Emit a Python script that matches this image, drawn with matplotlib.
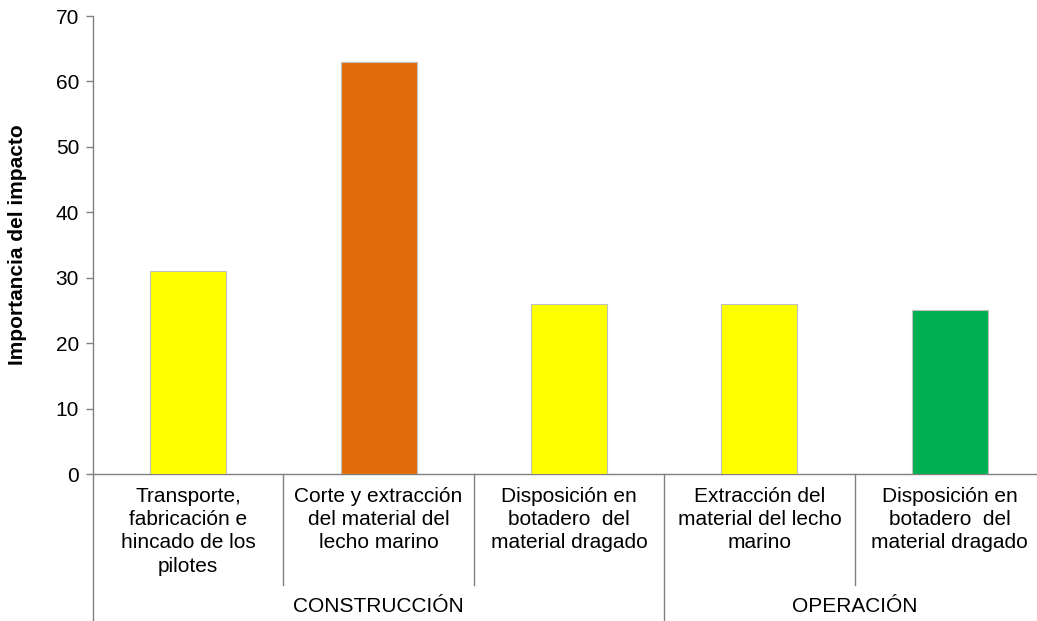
import matplotlib
matplotlib.use("Agg")
import matplotlib.pyplot as plt
import matplotlib.transforms as mtransforms

plt.rcParams['font.family'] = ['Liberation Sans', 'DejaVu Sans']

categories = [
    "Transporte,\nfabricación e\nhincado de los\npilotes",
    "Corte y extracción\ndel material del\nlecho marino",
    "Disposición en\nbotadero  del\nmaterial dragado",
    "Extracción del\nmaterial del lecho\nmarino",
    "Disposición en\nbotadero  del\nmaterial dragado",
]
values = [31, 63, 26, 26, 25]
colors = ["#FFFF00", "#E36C0A", "#FFFF00", "#FFFF00", "#00B050"]
groups = ["CONSTRUCCIÓN", "OPERACIÓN"]
group_sizes = [3, 2]
yticks = [0, 10, 20, 30, 40, 50, 60, 70]

W, H = 1037, 621
fig = plt.figure(figsize=(W / 100, H / 100), dpi=100)
left, right, top, bottom = 93, 1045, 16, 474
ax = fig.add_axes([left / W, (H - bottom) / H, (right - left) / W, (bottom - top) / H])

x = [i + 0.5 for i in range(len(values))]
ax.bar(x, values, width=0.4, color=colors, edgecolor="#BFBFBF", linewidth=0.8, zorder=3)

ax.set_xlim(0, len(values))
ax.set_ylim(0, 70)
ax.set_yticks(yticks)
ax.tick_params(axis='y', labelsize=15, length=5, width=1, color="#808080", pad=5, labelcolor="#000000")
ax.set_xticks([])
for s in ["top", "right"]:
    ax.spines[s].set_visible(False)
for s in ["left", "bottom"]:
    ax.spines[s].set_color("#808080")
    ax.spines[s].set_linewidth(1)

ax.set_ylabel("Importancia del impacto", fontsize=15, fontweight="bold")
ax.yaxis.set_label_coords(-(93 - 27) / (right - left), 0.5)

trans = mtransforms.blended_transform_factory(ax.transData, ax.transAxes)
ah = bottom - top
short = -(585 - bottom) / ah
long_ = -(H - bottom + 5) / ah

bounds = [0]
for g in group_sizes:
    bounds.append(bounds[-1] + g)

for i in range(len(values) + 1):
    is_group = i in bounds
    y1 = long_ if is_group else short
    ax.plot([i, i], [0, y1], transform=trans, color="#808080", lw=1, clip_on=False)

for xi, lab in zip(x, categories):
    ax.text(xi, -(487 - bottom) / ah, lab, transform=trans, ha="center", va="top",
            fontsize=15, linespacing=1.28)

for gi, g in enumerate(groups):
    cx = (bounds[gi] + bounds[gi + 1]) / 2
    ax.text(cx, -(607 - bottom) / ah, g, transform=trans, ha="center", va="center", fontsize=15)

fig.savefig("out.png", dpi=100)
